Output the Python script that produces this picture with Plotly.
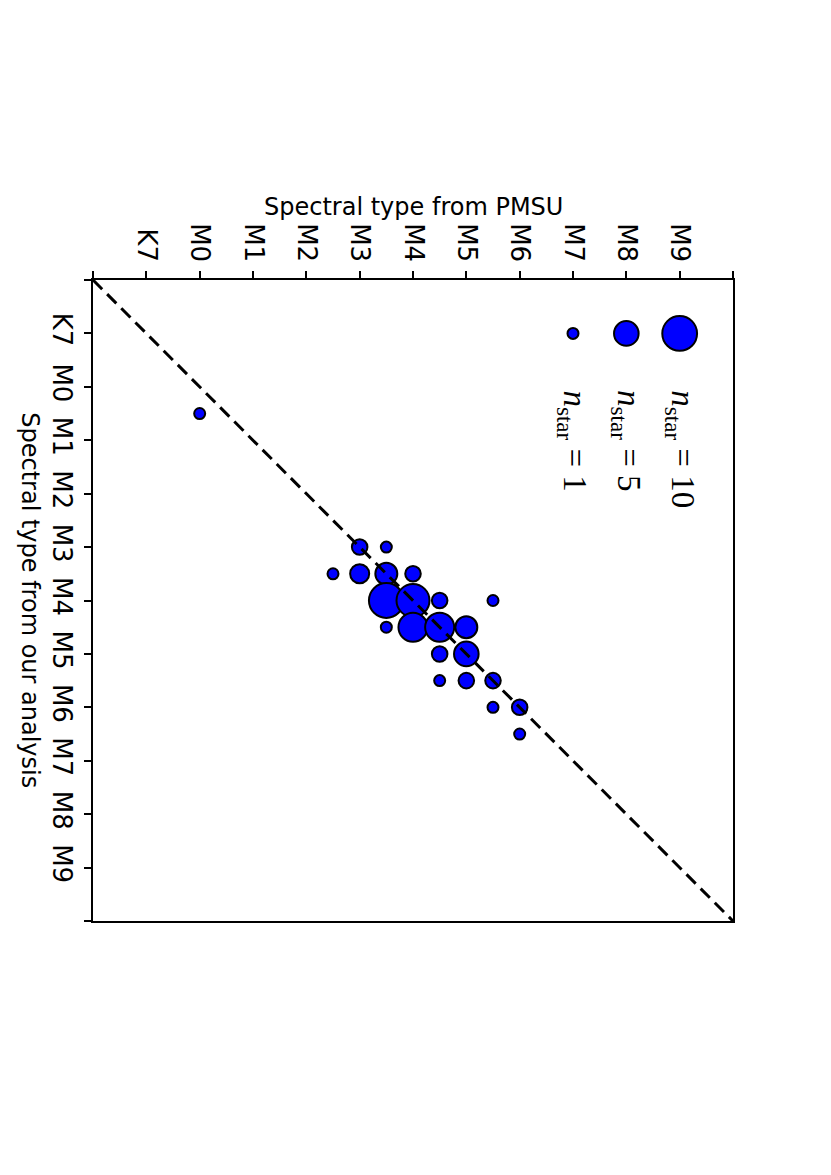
import plotly.graph_objects as go
import numpy as np

# spectral subtype scale: K7 = -1, M0 = 0 ... M9 = 9
tick_vals = list(range(-2, 11))
tick_text = ['', 'K7', 'M0', 'M1', 'M2', 'M3', 'M4', 'M5', 'M6', 'M7', 'M8', 'M9', '']

# points: PMSU type, our type, number of stars at that position
pmsu_type = [0.0, 3.0, 3.5, 2.5, 3.0, 3.5, 4.0, 3.5, 4.0, 4.5, 5.5, 3.5,
             4.0, 4.5, 5.0, 4.5, 5.0, 4.5, 5.0, 5.5, 5.5, 6.0, 6.0]
our_type = [0.5, 3.0, 3.0, 3.5, 3.5, 3.5, 3.5, 4.0, 4.0, 4.0, 4.0, 4.5,
            4.5, 4.5, 4.5, 5.0, 5.0, 5.5, 5.5, 5.5, 6.0, 6.0, 6.5]
n_star = [1, 2, 1, 1, 3, 4, 2, 10, 9, 2, 1, 1,
          7, 7, 4, 2, 5, 1, 2, 2, 1, 2, 1]

# size key
legend_n = [10, 5, 1]
legend_pmsu = [9, 8, 7]
legend_our = [-1, -1, -1]

one_to_one = [-2, 10]


def marker_px(n):
    # marker area proportional to number of stars
    return 11.0 * np.sqrt(np.asarray(n, dtype=float))


fig = go.Figure()

fig.add_trace(go.Scatter(
    x=pmsu_type, y=our_type, mode='markers',
    marker=dict(size=marker_px(n_star), color='#0000ff', opacity=1,
                line=dict(color='black', width=2)),
    showlegend=False
))

fig.add_trace(go.Scatter(
    x=legend_pmsu, y=legend_our, mode='markers',
    marker=dict(size=marker_px(legend_n), color='#0000ff', opacity=1,
                line=dict(color='black', width=2)),
    showlegend=False
))

fig.add_trace(go.Scatter(
    x=one_to_one, y=one_to_one, mode='lines',
    line=dict(color='black', width=3, dash='13px,7px'),
    showlegend=False, cliponaxis=False
))

for n, px in zip(legend_n, legend_pmsu):
    fig.add_annotation(
        x=px, y=0.02, xref='x', yref='y',
        text='<i>n</i><sub>star</sub> = %d' % n,
        textangle=90, showarrow=False,
        xanchor='center', yanchor='top',
        font=dict(family='Liberation Serif', size=33, color='black')
    )

fig.add_annotation(
    x=0.5, y=1.114, xref='paper', yref='paper',
    text='Spectral type from PMSU', showarrow=False,
    xanchor='center', yanchor='middle',
    font=dict(family='DejaVu Sans', size=24, color='black')
)
fig.add_annotation(
    x=-0.098, y=0.5, xref='paper', yref='paper',
    text='Spectral type from our analysis', showarrow=False,
    textangle=90, xanchor='center', yanchor='middle',
    font=dict(family='DejaVu Sans', size=24, color='black')
)

axis_style = dict(
    tickvals=tick_vals, ticktext=tick_text,
    ticks='outside', ticklen=7, tickwidth=1.5, tickcolor='black',
    showline=True, linecolor='black', linewidth=1.5, mirror=True,
    showgrid=False, zeroline=False, tickangle=90,
    tickfont=dict(family='DejaVu Sans', size=26, color='black'),
)

fig.update_layout(
    width=831, height=1175,
    margin=dict(l=85, r=106, t=272, b=262),
    plot_bgcolor='white', paper_bgcolor='white',
    xaxis=dict(range=[-2, 10], side='top', **axis_style),
    yaxis=dict(range=[10, -2], side='left', **axis_style),
    showlegend=False
)

fig.write_html("out.html")
